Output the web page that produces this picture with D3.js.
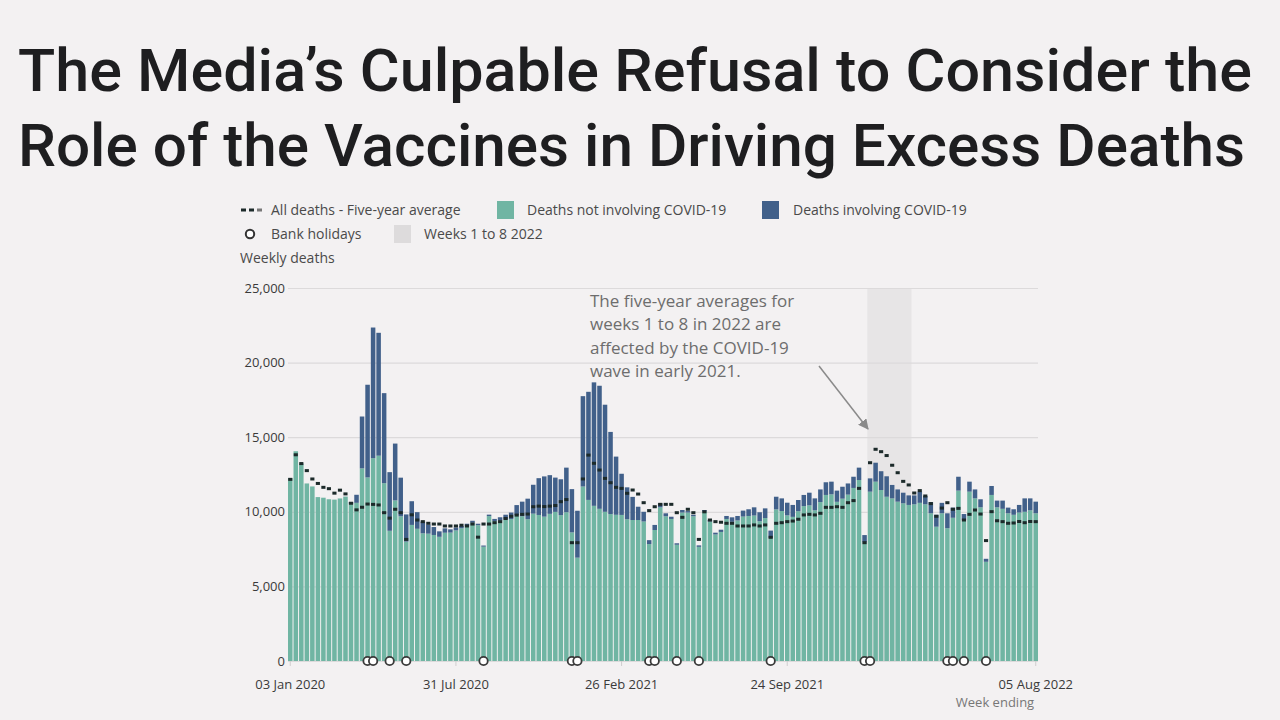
<!DOCTYPE html>
<html><head><meta charset="utf-8">
<script src="https://cdn.jsdelivr.net/npm/d3@7"></script>
<style>
html,body{margin:0;padding:0;background:#f3f1f2;}
svg{display:block;}
</style></head>
<body>
<svg id="chart" width="1280" height="720"></svg>
<script>
// ---------- DATA ----------
const titleLines = ["The Media’s Culpable Refusal to Consider the", "Role of the Vaccines in Driving Excess Deaths"];
const firstWeekEnding = "03 Jan 2020";
const weekCount = 136;
const xTickLabels = ["03 Jan 2020", "31 Jul 2020", "26 Feb 2021", "24 Sep 2021", "05 Aug 2022"];
const yTickValues = [0, 5000, 10000, 15000, 20000, 25000];

const nonCovid = [12254,14058,13241,11900,11700,10986,10944,10841,10816,10895,11014,10542,10602,12912,12303,13593,13760,11918,8727,10763,
9699,8002,9121,8862,8556,8534,8447,8324,8596,8606,8753,8898,9061,9262,9100,7661,9711,9384,9419,9484,
9512,9780,9702,9501,9875,9788,9675,9863,9995,9774,9974,8620,6926,11694,10797,10400,10200,10000,9850,9800,
9790,9500,9450,9450,9350,7840,8780,10300,9700,9520,7790,9950,9950,9700,7650,10020,9350,8480,8650,9520,
9330,9420,9680,9720,9750,9370,9580,8240,10160,10050,9760,9660,10040,10380,10430,10100,10650,11130,11170,10670,
10880,11150,11600,12130,7950,11350,12020,11460,11010,10900,10680,10570,10460,10500,10600,10500,9900,9000,9900,8900,
9600,11420,9450,11350,10900,10300,6650,11130,10300,10200,9900,9800,9950,10000,10100,9900];

const covid = [0,0,0,0,0,0,0,0,0,0,5,103,539,3475,6213,8758,8237,6035,3930,3810,
2589,1822,1588,1114,783,606,532,366,295,217,193,152,139,138,100,78,99,139,215,321,
438,670,978,1379,1937,2466,2697,2593,2297,2406,2986,2900,3144,6057,7245,8276,8248,7177,5504,3900,
2760,2140,1550,890,650,260,340,270,200,150,100,170,100,100,100,100,100,120,150,200,
300,300,400,450,550,600,650,500,850,850,850,800,750,750,850,800,850,850,850,750,
800,750,750,830,490,890,1270,1260,1370,900,820,710,640,600,750,560,750,800,700,1000,
680,930,400,670,600,540,200,600,450,550,380,370,510,900,800,780];

const fiveYearAvg = [12175,13822,13233,12760,12200,11900,11640,11550,11250,11450,11200,10573,10130,10305,10520,10497,10458,9941,9576,10170,
9940,8150,9800,9450,9340,9230,9180,9180,9050,9050,9050,9100,9050,9180,8300,9180,9180,9270,9340,9550,
9700,9780,9830,9850,10340,10380,10350,10380,10420,10680,10820,7930,7930,12200,13800,13250,12800,12240,11950,11640,
11570,11240,11460,11190,10610,10080,10340,10500,10500,10500,9940,9630,10170,9940,8150,10000,9450,9340,9300,9230,
9230,9050,9050,9050,9120,9050,9120,8290,9230,9270,9340,9380,9500,9790,9830,9790,9900,10300,10300,10340,
10300,10610,10750,11570,7930,13290,14190,14030,13770,13120,12620,12040,11800,11260,11420,11060,10550,9700,10250,10610,
10170,10230,9450,9830,10120,9850,8070,10010,9400,9340,9230,9250,9350,9270,9350,9340];

const bankHolidayWeeks = ["10 Apr 2020","17 Apr 2020","08 May 2020","29 May 2020","04 Sep 2020","25 Dec 2020","01 Jan 2021",
"02 Apr 2021","09 Apr 2021","07 May 2021","04 Jun 2021","03 Sep 2021","31 Dec 2021","07 Jan 2022",
"15 Apr 2022","22 Apr 2022","06 May 2022","03 Jun 2022"];
const shadedWeeks = ["07 Jan 2022", "25 Feb 2022"];

const legendRow1 = ["All deaths - Five-year average", "Deaths not involving COVID-19", "Deaths involving COVID-19"];
const legendRow2 = ["Bank holidays", "Weeks 1 to 8 2022"];
const yAxisTitle = "Weekly deaths";
const xAxisTitle = "Week ending";
const annotationLines = ["The five-year averages for", "weeks 1 to 8 in 2022 are", "affected by the COVID-19", "wave in early 2021."];

// ---------- DRAW ----------
(function () {
const C = {
  bg: "#f3f1f2", green: "#70b5a3", navy: "#41608a", avg: "#1c2a2a",
  grid: "#dcdadb", shade: "#e7e5e6", text: "#4a4a4a", light: "#777"
};
const parse = d3.timeParse("%d %b %Y");
const fmt = d3.timeFormat("%d %b %Y");
const start = parse(firstWeekEnding);
const weeks = d3.range(weekCount).map(i => fmt(d3.timeDay.offset(start, 7 * i)));

const table = weeks.map((w, i) => ({ week: w, nonCovid: nonCovid[i], covid: covid[i], avg: fiveYearAvg[i] }));

const svg = d3.select("#chart");
svg.append("rect").attr("width", 1280).attr("height", 720).attr("fill", C.bg);

const pL = 288, pR = 1038, pT = 288, pB = 661;
const x = d3.scaleBand().domain(weeks).range([pL, pR]).paddingInner(0.18).paddingOuter(0);
const y = d3.scaleLinear().domain([0, 25000]).range([pB, pT]);

// Title
svg.selectAll("text.title").data(titleLines).join("text")
  .attr("class", "title")
  .attr("x", 18).attr("y", (d, i) => 91 + i * 75)
  .attr("textLength", (d, i) => i === 0 ? 1234 : 1227)
  .attr("lengthAdjust", "spacingAndGlyphs")
  .style("font-family", "Roboto, 'Open Sans', sans-serif")
  .style("font-weight", 500).style("font-size", "60px")
  .attr("fill", "#1e1e20").text(d => d);

// Legend
const lg = svg.append("g").style("font-family", "'Open Sans', sans-serif").style("font-size", "14px");
[0, 1, 2].forEach(k => lg.append("rect").attr("x", 241 + k * 8).attr("y", 208.5).attr("width", 5).attr("height", 3)
  .attr("fill", k < 2 ? C.avg : "#777"));
lg.append("text").attr("x", 271).attr("y", 215).attr("fill", C.text).text(legendRow1[0]);
lg.append("rect").attr("x", 497).attr("y", 201).attr("width", 17).attr("height", 18).attr("fill", C.green);
lg.append("text").attr("x", 527).attr("y", 215).attr("fill", C.text).text(legendRow1[1]);
lg.append("rect").attr("x", 762).attr("y", 201).attr("width", 17).attr("height", 18).attr("fill", C.navy);
lg.append("text").attr("x", 793).attr("y", 215).attr("fill", C.text).text(legendRow1[2]);
lg.append("circle").attr("cx", 250).attr("cy", 234).attr("r", 4.2).attr("fill", "#fff").attr("stroke", "#333").attr("stroke-width", 2);
lg.append("text").attr("x", 271).attr("y", 239).attr("fill", C.text).text(legendRow2[0]);
lg.append("rect").attr("x", 394).attr("y", 225).attr("width", 17).attr("height", 18).attr("fill", "#dddbdc");
lg.append("text").attr("x", 424).attr("y", 239).attr("fill", C.text).text(legendRow2[1]);
lg.append("text").attr("x", 240).attr("y", 263).attr("fill", C.text).text(yAxisTitle);

// Shaded region
const gap = (x.step() - x.bandwidth()) / 2;
const s0 = x(shadedWeeks[0]) - gap;
const s1 = x(shadedWeeks[1]) + x.bandwidth() + gap;
svg.append("rect").attr("x", s0).attr("y", pT).attr("width", s1 - s0).attr("height", pB - pT).attr("fill", C.shade);

// Y grid + labels
const yAxis = d3.axisLeft(y).tickValues(yTickValues).tickFormat(d3.format(",")).tickSize(-(pR - pL)).tickPadding(4);
const ga = svg.append("g").attr("transform", `translate(${pL},0)`).call(yAxis);
ga.select(".domain").remove();
ga.selectAll(".tick line").attr("stroke", C.grid).attr("stroke-width", 1.2);
ga.selectAll(".tick text").attr("x", -3).style("font-family", "'Open Sans', sans-serif").style("font-size", "13px").attr("fill", "#3a3a3a");

// Bars
const stack = d3.stack().keys(["nonCovid", "covid"])(table);
const colors = [C.green, C.navy];
svg.append("g").selectAll("g").data(stack).join("g").attr("fill", (d, i) => colors[i])
  .selectAll("rect").data(d => d).join("rect")
  .attr("x", d => x(d.data.week)).attr("width", x.bandwidth())
  .attr("y", d => y(d[1])).attr("height", d => y(d[0]) - y(d[1]));

// Five-year average markers
svg.append("g").selectAll("rect").data(table).join("rect")
  .attr("x", d => x(d.week) + 0.2).attr("width", x.bandwidth() - 0.4)
  .attr("y", d => y(d.avg) - 1.5).attr("height", 3).attr("fill", C.avg);

// X axis
const xAxis = d3.axisBottom(x).tickValues(xTickLabels).tickSize(5).tickPadding(14);
const gx = svg.append("g").attr("transform", `translate(0,${pB})`).call(xAxis);
gx.select(".domain").remove();
gx.selectAll(".tick line").attr("stroke", "#cfcdce");
gx.selectAll(".tick text").style("font-family", "'Open Sans', sans-serif").style("font-size", "13px").attr("fill", "#3a3a3a");
svg.append("text").attr("x", 995).attr("y", 707).attr("text-anchor", "middle")
  .style("font-family", "'Open Sans', sans-serif").style("font-size", "13px").attr("fill", C.light).text(xAxisTitle);

// Bank holidays
svg.append("g").selectAll("circle").data(bankHolidayWeeks).join("circle")
  .attr("cx", d => x(d) + x.bandwidth() / 2).attr("cy", pB)
  .attr("r", 4.2).attr("fill", "#fff").attr("stroke", "#3a3a3a").attr("stroke-width", 1.8);

// Annotation
svg.append("g").selectAll("text").data(annotationLines).join("text")
  .attr("x", 590).attr("y", (d, i) => 307 + i * 23.3)
  .style("font-family", "'Open Sans', sans-serif").style("font-size", "17px").attr("fill", "#6d6d6d").text(d => d);
const defs = svg.append("defs");
defs.append("marker").attr("id", "ah").attr("viewBox", "0 0 10 10").attr("refX", 9).attr("refY", 5)
  .attr("markerWidth", 7).attr("markerHeight", 7).attr("orient", "auto")
  .append("path").attr("d", "M0,0 L10,5 L0,10 z").attr("fill", "#8a8a8a");
svg.append("line").attr("x1", 819).attr("y1", 366).attr("x2", 868).attr("y2", 429)
  .attr("stroke", "#8a8a8a").attr("stroke-width", 1.5).attr("marker-end", "url(#ah)");
})();
</script>
</body></html>
